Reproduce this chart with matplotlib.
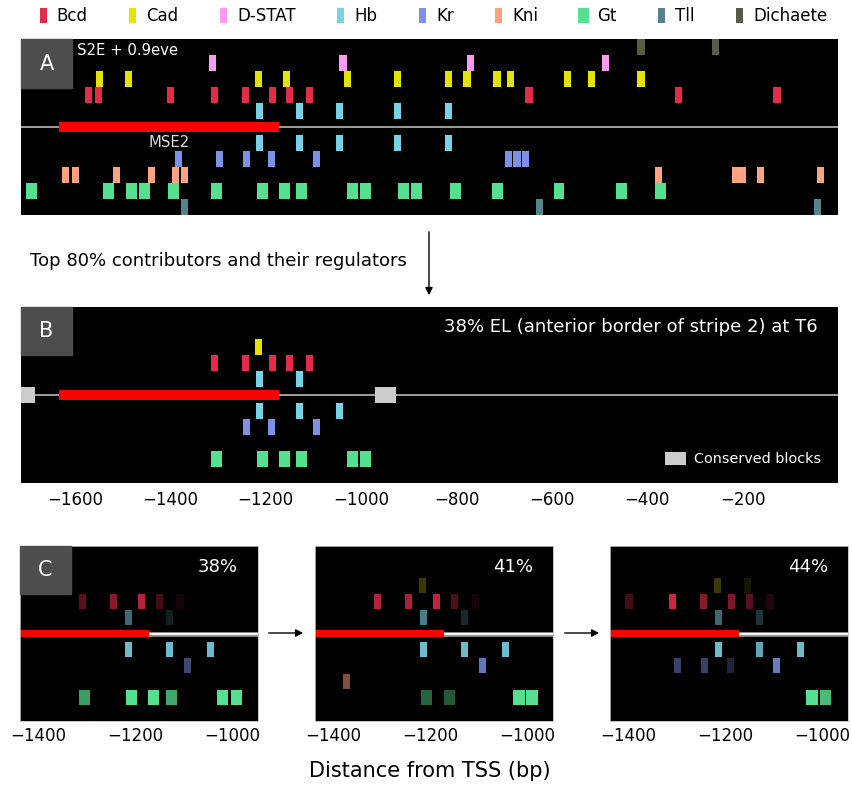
import matplotlib
matplotlib.use('Agg')
from matplotlib import pyplot as plt
from matplotlib.patches import Rectangle, FancyArrowPatch, Patch
from matplotlib.legend_handler import HandlerPatch
from matplotlib.colors import to_rgba

# ----- factors, colours, site widths (bp) -----
factors = ['Bcd', 'Cad', 'D-STAT', 'Hb', 'Kr', 'Kni', 'Gt', 'Tll', 'Dichaete']
colors = ['#e52a4a', '#e4e400', '#ff99f4', '#78d2e5', '#7a93e6',
          '#ffa37f', '#55e08f', '#57838f', '#5a5b45']
site_width = [15, 15, 15, 15, 15, 15, 23, 15, 15]

# ----- panel A: all sites in S2E + 0.9eve -----
dichaete_a = [-413, -256]
dstat_a = [-1311, -1038, -770, -488]
cad_a = [-1549, -1488, -1215, -1156, -1028, -923, -816, -778, -715, -686, -568, -516, -413]
bcd_a = [-1572, -1551, -1400, -1307, -1242, -1185, -1150, -1108, -648, -335, -128]
hb_fwd_a = [-1213, -1129, -1045, -923, -816]
hb_rev_a = [-1213, -1129, -1045, -923, -816]
kr_a = [-1383, -1297, -1240, -1187, -1093, -690, -673, -656]
kni_a = [-1620, -1599, -1513, -1439, -1389, -1370, -377, -215, -201, -163, -37]
gt_a = [-1691, -1530, -1481, -1454, -1393, -1303, -1206, -1160, -1125, -1017, -990,
        -910, -883, -803, -713, -585, -453, -373]
tll_a = [-1370, -625, -43]

mse2 = (-1633, -1172)

# ----- panel B: top 80% contributors -----
cad_b = [-1215]
bcd_b = [-1307, -1242, -1185, -1150, -1108]
hb_fwd_b = [-1213, -1129]
hb_rev_b = [-1213, -1129, -1045]
kr_b = [-1240, -1187, -1093]
gt_b = [-1303, -1206, -1160, -1125, -1017, -990]
conserved_start = [-1720, -970]
conserved_end = [-1684, -926]

# ----- panel C: contributions at 38%, 41%, 44% EL (position, opacity) -----
c_labels = ['38%', '41%', '44%']

c38_bcd = [-1308, -1245, -1188, -1151, -1108]
c38_bcd_op = [0.4, 0.6, 0.8, 0.3, 0.1]
c38_hbf = [-1214, -1130]
c38_hbf_op = [0.5, 0.15]
c38_hbr = [-1214, -1130, -1046]
c38_hbr_op = [0.9, 0.9, 0.9]
c38_kr = [-1093]
c38_kr_op = [0.5]
c38_gt = [-1305, -1208, -1163, -1126, -1021, -993]
c38_gt_op = [0.7, 1.0, 1.0, 0.75, 1.0, 1.0]

c41_cad = [-1216]
c41_cad_op = [0.25]
c41_bcd = [-1308, -1245, -1187, -1150, -1107]
c41_bcd_op = [0.8, 0.75, 0.85, 0.35, 0.1]
c41_hbf = [-1214, -1130]
c41_hbf_op = [0.6, 0.2]
c41_hbr = [-1214, -1130, -1045]
c41_hbr_op = [0.9, 0.9, 0.9]
c41_kr = [-1093]
c41_kr_op = [0.8]
c41_kni = [-1372]
c41_kni_op = [0.5]
c41_gt = [-1208, -1160, -1018, -991]
c41_gt_op = [0.45, 0.4, 1.0, 1.0]

c44_cad = [-1216, -1155]
c44_cad_op = [0.25, 0.1]
c44_bcd = [-1398, -1308, -1245, -1187, -1151, -1108]
c44_bcd_op = [0.3, 0.9, 0.6, 0.55, 0.4, 0.15]
c44_hbf = [-1214, -1130]
c44_hbf_op = [0.5, 0.25]
c44_hbr = [-1214, -1130, -1046]
c44_hbr_op = [0.9, 0.8, 0.9]
c44_kr = [-1298, -1243, -1190, -1095]
c44_kr_op = [0.45, 0.45, 0.25, 0.85]
c44_gt = [-1022, -995]
c44_gt_op = [1.0, 0.85]

# track of each factor (Hb sits on both strands)
track = {'Dichaete': 5, 'D-STAT': 4, 'Cad': 3, 'Bcd': 2, 'Hb': 1,
         'Hb_r': -1, 'Kr': -2, 'Kni': -3, 'Gt': -4, 'Tll': -5}

W, H = 852, 785
fig = plt.figure(figsize=(W / 100, H / 100), dpi=100)


def box(l, t, r, b):
    return [l / W, 1 - b / H, (r - l) / W, (b - t) / H]


def sites(ax, name, pos, op=None, h=1.0):
    i = factors.index(name.replace('_r', ''))
    if op is None:
        op = [1.0] * len(pos)
    cols = [to_rgba(colors[i], a) for a in op]
    ax.bar(pos, h, width=site_width[i], bottom=track[name] - h / 2,
           color=cols, linewidth=0, zorder=3)


def panel_tag(ax, letter, w, h):
    ax.add_patch(Rectangle((0, 1 - h), w, h, transform=ax.transAxes,
                           color='#4d4d4d', zorder=6, clip_on=False))
    ax.text(w / 2, 1 - h / 2, letter, transform=ax.transAxes, color='white',
            fontsize=15, ha='center', va='center', zorder=7)


def setup(ax, xlim):
    ax.set_facecolor('black')
    ax.set_xlim(*xlim)
    ax.set_ylim(-5.5, 5.5)
    ax.set_yticks([])
    for s in ax.spines.values():
        s.set_visible(False)


# ----- Panel A -----
axA = fig.add_axes(box(21, 39, 838, 215))
setup(axA, (-1713, 0))
axA.set_xticks([])
axA.axhline(0, color='#aaaaaa', lw=1.3, zorder=1)
axA.barh(0, mse2[1] - mse2[0], left=mse2[0], height=0.62, color='#ff0000', zorder=2)
sites(axA, 'Dichaete', dichaete_a)
sites(axA, 'D-STAT', dstat_a)
sites(axA, 'Cad', cad_a)
sites(axA, 'Bcd', bcd_a)
sites(axA, 'Hb', hb_fwd_a)
sites(axA, 'Hb_r', hb_rev_a)
sites(axA, 'Kr', kr_a)
sites(axA, 'Kni', kni_a)
sites(axA, 'Gt', gt_a)
sites(axA, 'Tll', tll_a)
panel_tag(axA, 'A', 51 / 817, 49 / 176)
axA.text(0.0685, 0.932, 'S2E + 0.9eve', transform=axA.transAxes, color='white',
         fontsize=10.7, va='center', zorder=7)
axA.text(sum(mse2) / 2, -0.95, 'MSE2', color='#dddddd', fontsize=10.7,
         ha='center', va='center', zorder=7)

# ----- Panel B -----
axB = fig.add_axes(box(21, 307, 838, 483))
setup(axB, (-1713, 0))
axB.set_xticks([-1600, -1400, -1200, -1000, -800, -600, -400, -200])
axB.tick_params(axis='x', length=0, labelsize=12, pad=6)
axB.axhline(0, color='#aaaaaa', lw=1.3, zorder=1)
axB.barh(0, mse2[1] - mse2[0], left=mse2[0], height=0.62, color='#ff0000', zorder=2)
axB.barh([0, 0], [e - s for s, e in zip(conserved_start, conserved_end)],
         left=conserved_start, height=0.94, color='#cccccc', zorder=2)
sites(axB, 'Cad', cad_b)
sites(axB, 'Bcd', bcd_b)
sites(axB, 'Hb', hb_fwd_b)
sites(axB, 'Hb_r', hb_rev_b)
sites(axB, 'Kr', kr_b)
sites(axB, 'Gt', gt_b)
panel_tag(axB, 'B', 51 / 817, 48 / 176)
axB.text(0.9755, 0.886, '38% EL (anterior border of stripe 2) at T6',
         transform=axB.transAxes, color='white', fontsize=13, ha='right', va='center')
axB.legend(handles=[Patch(facecolor='#cccccc', label='Conserved blocks')],
           loc='lower right', frameon=False, fontsize=10.4, labelcolor='white',
           handlelength=1.45, handleheight=1.05, handletextpad=0.55,
           borderaxespad=0.75)

# ----- Panel C -----
c_lefts = [20, 315, 610]
c_data = [
    [('Bcd', c38_bcd, c38_bcd_op), ('Hb', c38_hbf, c38_hbf_op), ('Hb_r', c38_hbr, c38_hbr_op),
     ('Kr', c38_kr, c38_kr_op), ('Gt', c38_gt, c38_gt_op)],
    [('Cad', c41_cad, c41_cad_op), ('Bcd', c41_bcd, c41_bcd_op), ('Hb', c41_hbf, c41_hbf_op),
     ('Hb_r', c41_hbr, c41_hbr_op), ('Kr', c41_kr, c41_kr_op), ('Kni', c41_kni, c41_kni_op),
     ('Gt', c41_gt, c41_gt_op)],
    [('Cad', c44_cad, c44_cad_op), ('Bcd', c44_bcd, c44_bcd_op), ('Hb', c44_hbf, c44_hbf_op),
     ('Hb_r', c44_hbr, c44_hbr_op), ('Kr', c44_kr, c44_kr_op), ('Gt', c44_gt, c44_gt_op)],
]
for k, (left, lab, dat) in enumerate(zip(c_lefts, c_labels, c_data)):
    ax = fig.add_axes(box(left, 546, left + 238, 721))
    setup(ax, (-1437, -948))
    for s in ax.spines.values():
        s.set_visible(True)
        s.set_color('#bbbbbb')
        s.set_linewidth(0.6)
    ax.set_xticks([-1400, -1200, -1000])
    ax.tick_params(axis='x', length=0, labelsize=12, pad=4)
    ax.axhline(0, color='#888888', lw=3.5, zorder=1)
    ax.axhline(0, color='#f4f4f4', lw=1.6, zorder=1)
    ax.barh(0, mse2[1] - mse2[0], left=mse2[0], height=0.5, color='#ff0000', zorder=2)
    for name, pos, op in dat:
        sites(ax, name, pos, op, h=0.95)
    ax.text(0.915, 0.88, lab, transform=ax.transAxes, color='white', fontsize=13,
            ha='right', va='center')
    if k == 0:
        panel_tag(ax, 'C', 51 / 238, 48 / 175)

# ----- arrows and figure texts -----
def arrow(x0, y0, x1, y1):
    fig.add_artist(FancyArrowPatch((x0 / W, 1 - y0 / H), (x1 / W, 1 - y1 / H),
                                   transform=fig.transFigure, arrowstyle='-|>',
                                   mutation_scale=11, color='black', lw=1))

arrow(429, 229, 429, 298)
arrow(266, 633, 306, 633)
arrow(562, 633, 602, 633)

fig.text(407 / W, 1 - 261 / H, 'Top 80% contributors and their regulators',
         fontsize=13, ha='right', va='center')
fig.text(430 / W, 1 - 771 / H, 'Distance from TSS (bp)', fontsize=15,
         ha='center', va='center')


# ----- top legend -----
def narrow_patch(legend, orig_handle, xdescent, ydescent, width, height, fontsize):
    w = width * orig_handle.get_width() / 15
    return Rectangle((-xdescent - (w - width) / 2, -ydescent), w, height)


handles = [Rectangle((0, 0), site_width[i], 1, facecolor=colors[i], label=f)
           for i, f in enumerate(factors)]
fig.legend(handles=handles, loc='center', bbox_to_anchor=(433.5 / W, 1 - 16 / H),
           ncol=9, frameon=False, fontsize=12, handlelength=0.42, handleheight=0.96,
           handletextpad=0.6, columnspacing=2.5,
           handler_map={Rectangle: HandlerPatch(patch_func=narrow_patch)})

fig.savefig('out.png', dpi=100)
